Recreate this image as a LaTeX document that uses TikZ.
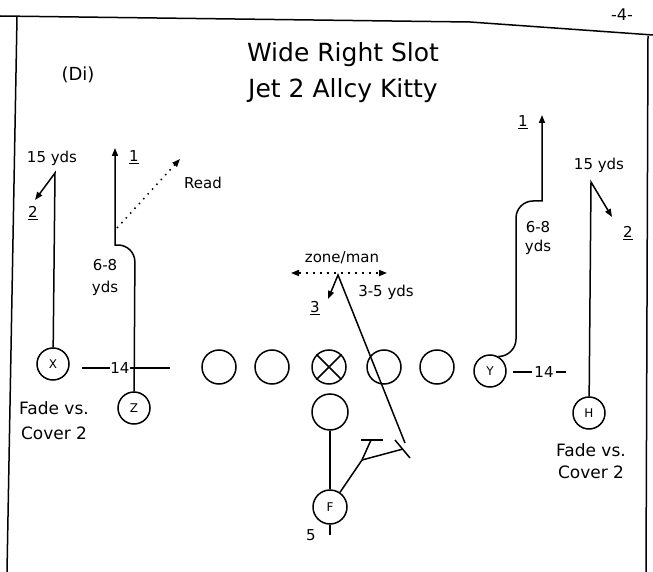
\documentclass[tikz,border=0pt]{standalone}
\usepackage{fontspec}
\setmainfont{DejaVu Sans}
\usetikzlibrary{arrows.meta}

\begin{document}
\begin{tikzpicture}[x=1pt,y=-1pt,
  plyr/.style={draw, circle, line width=1.5pt, minimum size=32pt, inner sep=0pt,
               font=\fontsize{12}{14}\selectfont},
  lman/.style={draw, circle, line width=1.5pt, minimum size=34pt, inner sep=0pt},
  rte/.style={line width=1.5pt},
  rtip/.style={-{Triangle[length=8pt,width=6pt]}},
  lbl/.style={inner sep=0pt, font=\fontsize{15}{17}\selectfont},
  note/.style={inner sep=0pt, font=\fontsize{17}{19}\selectfont}]
  \useasboundingbox (0,0) rectangle (653,572);
  % page frame
  \draw[line width=1.5pt] (0,16) -- (470,22) -- (653,35);
  \draw[line width=1.5pt] (17,17) -- (7,572);
  \draw[line width=1.5pt] (648,36) -- (646,572);
  \node[lbl, font=\fontsize{16}{18}\selectfont] (pgno) at (622,15) {-4-};
  % heading
  \node[note, font=\fontsize{18}{20}\selectfont] (dtag) at (78,75) {(Di)};
  \node[anchor=base, inner sep=0pt, font=\fontsize{25}{28}\selectfont] (ttl1) at (343,62) {Wide Right Slot};
  \node[anchor=base, inner sep=0pt, font=\fontsize{25}{28}\selectfont] (ttl2) at (343,98) {Jet 2 Allcy Kitty};
  % line of scrimmage
  \node[lman] (ln1) at (219,367) {};
  \node[lman] (ln2) at (272,367) {};
  \node[lman] (ctr) at (329,367) {};
  \draw[rte] (ctr.45) -- (ctr.225) (ctr.135) -- (ctr.315);
  \node[lman] (ln4) at (384,367) {};
  \node[lman] (ln5) at (437,367) {};
  \node[plyr] (X) at (53,364) {X};
  \node[plyr] (Z) at (134,408) {Z};
  \node[plyr] (Y) at (490,371) {Y};
  \node[plyr] (H) at (589,413) {H};
  \node[lman, minimum size=36pt] (bk) at (330,412) {};
  \node[plyr, minimum size=34pt] (F) at (330,507) {F};
  % splits
  \node[lbl] (lsplit) at (120,368) {14};
  \draw[rte] (82,368) -- (lsplit.west);
  \draw[rte] (lsplit.east) -- (170,368);
  \node[lbl] (rsplit) at (544,372) {14};
  \draw[rte] (513,372) -- ([xshift=-2pt]rsplit.west);
  \draw[rte] ([xshift=2pt]rsplit.east) -- (566,372);
  % X
  \coordinate (xbrk) at (55,173);
  \coordinate (xend) at (35,200);
  \draw[rte, rtip] (X) -- (xbrk) -- (xend);
  \node[lbl] (xyds) at (52,158) {15 yds};
  \node[lbl] (xtwo) at (33,213) {\underline{2}};
  \node[note] (xfade) at (54,408) {Fade vs.};
  \node[note] (xcov) at (54,433) {Cover 2};
  % Z
  \coordinate (zc1) at (135,245);
  \coordinate (zc2) at (115,245);
  \coordinate (zend) at (115,148);
  \draw[rte, {Triangle[length=8pt,width=6pt]}-] (zend) -- (zc2) [rounded corners=17pt] -- (zc1) -- (Z);
  \coordinate (zrd) at (117,228);
  \coordinate (zrdend) at (180,159);
  \draw[rte, rtip, dash pattern=on 1.5pt off 5pt] (zrd) -- (zrdend);
  \node[lbl] (zone) at (134,157) {\underline{1}};
  \node[lbl] (zread) at (203,183) {Read};
  \node[lbl] (zyd1) at (105,265) {6-8};
  \node[lbl] (zyd2) at (105,288) {yds};
  % middle read
  \node[lbl] (zm) at (342,258) {zone/man};
  \coordinate (zml) at (291,273);
  \coordinate (zmr) at (387,273);
  \draw[rte, {Triangle[length=8pt,width=6pt]}-{Triangle[length=8pt,width=6pt]},
        dash pattern=on 2pt off 5pt] (zml) -- (zmr);
  \node[lbl] (mid35) at (386,292) {3-5 yds};
  \node[lbl] (mthree) at (315,308) {\underline{3}};
  \coordinate (mlow) at (405,443);
  \coordinate (mtop) at (338,275);
  \coordinate (mend) at (328,299);
  \draw[rte, rtip] (mlow) -- (mtop) -- (mend);
  % F
  \draw[rte] (bk) -- (F);
  \coordinate (fj) at (362,460);
  \coordinate (tblk) at (371,440);
  \coordinate (rblk) at (403,449);
  \draw[rte] (F) -- (fj) -- (tblk);
  \draw[rte] (fj) -- (rblk);
  \draw[rte] (361,440) -- (383,440);
  \draw[rte] (395,440) -- (410,458);
  \coordinate (ftick) at (330,535);
  \draw[rte] (F) -- (ftick);
  \node[lbl] (ffive) at (311,535) {5};
  % Y
  \coordinate (yc1) at (516,356);
  \coordinate (yc2) at (516,201);
  \coordinate (yc3) at (542,201);
  \coordinate (yend) at (542,115);
  \draw[rte, {Triangle[length=8pt,width=6pt]}-] (yend) -- (yc3) [rounded corners=17pt] -- (yc2) -- (yc1) -- (Y.60);
  \node[lbl] (yone) at (523,122) {\underline{1}};
  \node[lbl] (yyd1) at (538,227) {6-8};
  \node[lbl] (yyd2) at (538,247) {yds};
  % H
  \coordinate (hbrk) at (591,182);
  \coordinate (hend) at (612,217);
  \draw[rte, rtip] (H) -- (hbrk) -- (hend);
  \node[lbl] (hyds) at (599,165) {15 yds};
  \node[lbl] (htwo) at (628,233) {\underline{2}};
  \node[note] (hfade) at (591,450) {Fade vs.};
  \node[note] (hcov) at (591,472) {Cover 2};
\end{tikzpicture}
\end{document}
